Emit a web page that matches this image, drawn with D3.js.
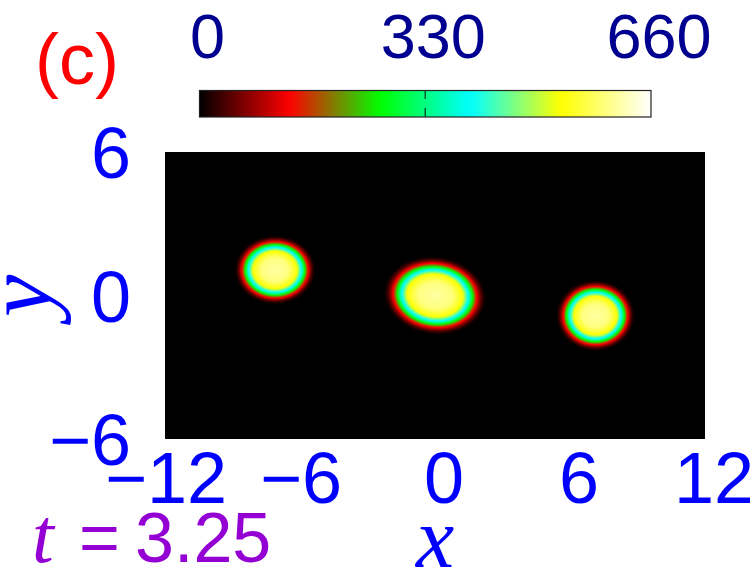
<!DOCTYPE html>
<html>
<head>
<meta charset="utf-8">
<script src="https://cdn.jsdelivr.net/npm/d3@7/dist/d3.min.js"></script>
<style>
  html, body { margin: 0; padding: 0; background: #fff; }
  svg { display: block; }
</style>
</head>
<body>
<div id="chart"></div>
<script>
// ---------- data ----------
const xTicks = [-12, -6, 0, 6, 12];
const yTicks = [-6, 0, 6];
const cbTicks = [0, 330, 660];
const cbStops = [0, 132, 264, 396, 528, 660];
const cbColors = ["#000000", "#ff0000", "#00ff00", "#00ffff", "#ffff00", "#ffffff"];

// three condensate blobs (centre, half-widths at the red contour, tilt, peak density)
const blobX = [-7.11, 0.0, 7.13];
const blobY = [1.07, 0.0, -0.84];
const blobRX = [1.50, 1.90, 1.46];
const blobRY = [1.20, 1.36, 1.24];
const blobTilt = [0, 7, 0];
const blobPeak = [612, 612, 612];
// radial density profile (radius relative to red contour, fraction of peak)
const profileR = [0, 0.4, 0.65, 0.78, 0.88, 0.98, 1.06, 1.13, 1.2];
const profileFrac = [1, 0.97, 0.86, 0.645, 0.43, 0.215, 0.1, 0.03, 0];

const panelLabel = "(c)";
const timeLabel = "3.25";

// ---------- setup ----------
const W = 750, H = 572;
const svg = d3.select("#chart").append("svg").attr("width", W).attr("height", H);
const defs = svg.append("defs");

const x = d3.scaleLinear().domain([-12, 12]).range([165, 705]);
const y = d3.scaleLinear().domain([-6, 6]).range([439, 152]);
const color = d3.scaleLinear().domain(cbStops).range(cbColors).clamp(true);
const cbx = d3.scaleLinear().domain([0, 660]).range([199.5, 651]);

const sans = "'Liberation Sans', Arial, Helvetica, sans-serif";
const serif = "'Liberation Serif', 'Times New Roman', serif";

// ---------- plot area ----------
defs.append("clipPath").attr("id", "plotclip")
  .append("rect").attr("x", x(-12)).attr("y", y(6))
  .attr("width", x(12) - x(-12)).attr("height", y(-6) - y(6));

svg.append("rect")
  .attr("x", x(-12)).attr("y", y(6))
  .attr("width", x(12) - x(-12)).attr("height", y(-6) - y(6))
  .attr("fill", "#000");

const rMax = profileR[profileR.length - 1];
const blobs = blobX.map((d, i) => ({ cx: d, cy: blobY[i], rx: blobRX[i], ry: blobRY[i], tilt: blobTilt[i], peak: blobPeak[i], i }));

blobs.forEach(b => {
  const g = defs.append("radialGradient").attr("id", "blob" + b.i)
    .attr("cx", "50%").attr("cy", "50%").attr("r", "50%");
  profileR.forEach((r, k) => {
    g.append("stop").attr("offset", (r / rMax)).attr("stop-color", color(profileFrac[k] * b.peak));
  });
});

const plot = svg.append("g").attr("clip-path", "url(#plotclip)");
plot.selectAll("ellipse.blob").data(blobs).enter().append("ellipse")
  .attr("class", "blob")
  .attr("cx", d => x(d.cx)).attr("cy", d => y(d.cy))
  .attr("rx", d => (x(d.rx) - x(0)) * rMax)
  .attr("ry", d => (y(0) - y(d.ry)) * rMax)
  .attr("transform", d => `rotate(${d.tilt},${x(d.cx)},${y(d.cy)})`)
  .attr("fill", d => `url(#blob${d.i})`);

// ---------- axes tick labels ----------
svg.append("g").selectAll("text").data(xTicks).enter().append("text")
  .attr("x", d => x(d) + (d >= 0 ? 9 : 1)).attr("y", 503)
  .attr("text-anchor", "middle")
  .attr("font-family", sans).attr("font-size", 72).attr("fill", "#0000ff")
  .text(d => d < 0 ? "\u2212" + Math.abs(d) : d);

svg.append("g").selectAll("text").data(yTicks).enter().append("text")
  .attr("x", 131).attr("y", d => y(d) + 26)
  .attr("text-anchor", "end")
  .attr("font-family", sans).attr("font-size", 72).attr("fill", "#0000ff")
  .text(d => d < 0 ? "\u2212" + Math.abs(d) : d);

// axis titles
svg.append("text").attr("x", 435).attr("y", 567).attr("text-anchor", "middle")
  .attr("font-family", serif).attr("font-style", "italic").attr("font-size", 86)
  .attr("fill", "#0000ff").text("x");

svg.append("text").attr("transform", "translate(51,296) rotate(-90)")
  .attr("text-anchor", "middle")
  .attr("font-family", serif).attr("font-style", "italic").attr("font-size", 95)
  .attr("fill", "#0000ff").text("y");

// ---------- colour bar ----------
const lg = defs.append("linearGradient").attr("id", "cbgrad")
  .attr("x1", "0%").attr("x2", "100%").attr("y1", "0%").attr("y2", "0%");
d3.range(0, 661, 10).forEach(v => {
  lg.append("stop").attr("offset", v / 660).attr("stop-color", color(v));
});
svg.append("rect").attr("x", cbx(0)).attr("y", 90.5)
  .attr("width", cbx(660) - cbx(0)).attr("height", 26.5)
  .attr("fill", "url(#cbgrad)").attr("stroke", "#222").attr("stroke-width", 1.2);
svg.append("line").attr("x1", cbx(330)).attr("x2", cbx(330)).attr("y1", 91).attr("y2", 99)
  .attr("stroke", "#000").attr("stroke-opacity", 0.65).attr("stroke-width", 1.5);
svg.append("line").attr("x1", cbx(330)).attr("x2", cbx(330)).attr("y1", 108).attr("y2", 116.5)
  .attr("stroke", "#000").attr("stroke-opacity", 0.65).attr("stroke-width", 1.5);

svg.append("g").selectAll("text").data(cbTicks).enter().append("text")
  .attr("x", d => cbx(d) + 8).attr("y", 58)
  .attr("text-anchor", "middle")
  .attr("font-family", sans).attr("font-size", 63).attr("fill", "#000090")
  .text(d => d);

// ---------- labels ----------
svg.append("text").attr("x", 35).attr("y", 84)
  .attr("font-family", sans).attr("font-size", 72).attr("fill", "#ff0000")
  .text(panelLabel);

svg.append("text").attr("x", 32).attr("y", 562)
  .attr("font-family", serif).attr("font-style", "italic").attr("font-size", 78)
  .attr("fill", "#9400d3").text("t");
svg.append("text").attr("x", 79).attr("y", 562)
  .attr("font-family", sans).attr("font-size", 70)
  .attr("fill", "#9400d3").text("=");
svg.append("text").attr("x", 135).attr("y", 562)
  .attr("font-family", sans).attr("font-size", 70)
  .attr("fill", "#9400d3").text(timeLabel);
</script>
</body>
</html>
